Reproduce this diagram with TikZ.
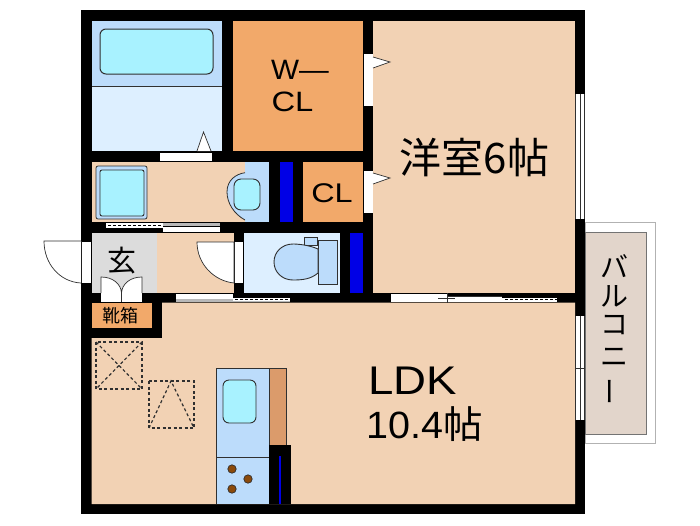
\documentclass[tikz,border=0pt]{standalone}
\usepackage{fontspec}
\setmainfont{Liberation Sans}
\newfontfamily\jp{Noto Sans CJK JP}
\definecolor{peach}{HTML}{F2D2B4}
\definecolor{closet}{HTML}{F2A96A}
\definecolor{paleblue}{HTML}{DDEFFF}
\definecolor{midblue}{HTML}{BCDCFB}
\definecolor{cyanw}{HTML}{A8F2FF}
\definecolor{floorgrey}{HTML}{DCDCDC}
\definecolor{pipe}{HTML}{0000E6}
\definecolor{balc}{HTML}{E2D5CB}
\definecolor{cab}{HTML}{DB9B6B}
\definecolor{burner}{HTML}{8B4A0B}
\definecolor{ln}{HTML}{303030}
\definecolor{trk}{HTML}{B8B8B8}
\tikzset{
 wall/.style={fill=black,draw=none},
 room/.style={draw=none},
 opening/.style={fill=white,draw=none},
 fix/.style={draw=ln,line width=0.9pt},
 swing/.style={fill=white,draw=ln,line width=0.7pt},
 dotline/.style={draw=black,line width=1.2pt,dash pattern=on 2.5pt off 2.5pt},
 dashline/.style={draw=ln,line width=1.2pt,dash pattern=on 3pt off 2.5pt},
 thinline/.style={draw=ln,line width=0.7pt},
 lbl/.style={inner sep=0pt,outer sep=0pt,text=black},
 jpbal/.style={lbl,font=\jp\fontsize{28}{28}\selectfont}
}
\newcommand{\wider}[2]{\scalebox{#1}[1]{#2}}
\begin{document}
\begin{tikzpicture}[x=1pt,y=-1pt]
\useasboundingbox (0,0) rectangle (700,525);
% balcony
\path[fill=white,draw=gray!60,line width=0.9pt] (585,222) rectangle (655,443);
\path[fill=balc,draw=gray!90!black,line width=0.9pt] (585,232) rectangle (646,434);
% whole wall block
\path[wall] (81,10) rectangle (585,514);
% rooms
\path[room,fill=midblue] (91.5,20.7) rectangle (222,86);
\path[room,fill=paleblue] (91.5,86) rectangle (222,151);
\draw[ln,line width=1pt] (91.5,86) -- (222,86);
\path[room,fill=closet] (232.5,20.7) rectangle (363,151);
\path[room,fill=peach] (373,20.7) rectangle (575,292.7);
\path[room,fill=peach] (91.5,161.7) rectangle (245,222);
\path[room,fill=midblue] (245,161.7) rectangle (269,222);
\path[room,fill=pipe] (280,161.7) rectangle (293,222);
\path[room,fill=closet] (303,161.7) rectangle (363,222);
\path[room,fill=floorgrey] (91.5,232.7) rectangle (157,292.7);
\path[room,fill=peach] (157,232.7) rectangle (234,292.7);
\path[room,fill=paleblue] (244,232.7) rectangle (340,292.7);
\path[room,fill=pipe] (350,232.7) rectangle (363,292.7);
\path[room,fill=closet] (91.5,302.7) rectangle (152,327.7);
\path[room,fill=peach] (162,302.7) rectangle (575,504) (91.5,338) rectangle (162,504);
% tub
\draw[fix,line width=1pt,fill=cyanw,rounded corners=6pt] (100,29) rectangle (213,74);
% washer
\draw[fix,line width=0.8pt,fill=midblue,rounded corners=2pt] (96,166) rectangle (147,219);
\draw[fix,fill=cyanw,rounded corners=2pt] (100,170) rectangle (144,216);
% basin
\path[draw=ln,line width=0.8pt,fill=midblue] (245,172.7) .. controls (236,174) and (227,180) .. (227,192) .. controls (227,203) and (234,214) .. (245,220);
\draw[fix,fill=cyanw,rounded corners=7pt] (234,179) rectangle (260,210);
% openings and door leaves
\path[opening] (364,54) rectangle (373,106);
\path[opening] (364,171) rectangle (373,213);
\draw[swing] (373,57) -- (390,62) -- (373,68);
\draw[swing] (373,173) -- (390,178) -- (373,184);
\path[opening] (160,153) rectangle (212,161);
\draw[swing] (197,151) -- (203.5,132) -- (211,151);
\path[opening] (82,242) rectangle (91,283);
\draw[swing] (81,241) -- (44,241) .. controls (44,264) and (60,282) .. (81,283);
\path[opening] (235,242) rectangle (243,283);
\draw[swing] (234,242) -- (197,242) .. controls (197,264) and (214,281) .. (234,283) -- cycle;
% shoe-side double door
\path[opening] (101,293) rectangle (142,302);
\draw[swing] (101,293) -- (101,277) .. controls (113,277) and (121,284) .. (121.5,293) .. controls (122,284) and (130,277) .. (142,277) -- (142,293);
\draw[ln,line width=0.7pt] (121.5,290) -- (121.5,302);
% sliding: washroom/hall
\path[opening] (106,223) rectangle (163,227.5);
\path[fill=trk] (163,223) rectangle (220,226);
\path[opening] (163,227) rectangle (220,231.5);
\draw[dotline] (108,225.2) -- (162,225.2);
% sliding: hall/LDK
\path[opening] (176,293.5) rectangle (233,298.5);
\path[fill=trk] (176,299) rectangle (233,302);
\path[opening] (233,297.5) rectangle (290,301);
\draw[dotline] (235,299.5) -- (290,299.5);
\path[fill=trk] (233,301) rectangle (290,302);
% sliding: room/LDK
\path[opening] (391,293.5) rectangle (447,302);
\path[opening] (447,296.5) rectangle (502,302);
\path[opening] (502,297.5) rectangle (557,301.5);
\draw[dotline,line width=1pt] (505,299.5) -- (557,299.5);
\draw[thinline,line width=1.2pt] (438,298.5) -- (455,298.5);
\draw[thinline] (447,296) -- (502,296);
\draw[thinline] (447,293) -- (447,302.5);
% windows
\path[opening] (575,94) rectangle (585,219);
\draw[thinline] (575.5,94) -- (575.5,219) (580.3,94) -- (580.3,219) (584.5,94) -- (584.5,219);
\path[opening] (575,316) rectangle (585,420);
\draw[thinline] (575.5,316) -- (575.5,420) (580.3,316) -- (580.3,420) (584.5,316) -- (584.5,420);
\draw[thinline] (575,368) -- (585,368);
% toilet
\draw[fix,fill=midblue] (318,240) rectangle (337,284);
\draw[fix,fill=midblue] (304,237) rectangle (317,245);
\draw[fix,fill=midblue] (318,249) .. controls (309,245) and (298,244) .. (293,244) .. controls (282,244) and (274,252) .. (274,262) .. controls (274,272) and (282,280) .. (293,280) .. controls (303,280) and (311,279) .. (318,273) -- cycle;
% kitchen
\path[draw=ln,line width=0.9pt,fill=midblue] (216,504) -- (216,368) -- (269,368) -- (269,504);
\draw[fix] (216,457) -- (269,457);
\draw[fix,fill=cab] (269,368) rectangle (286,445);
\path[wall] (269,445) rectangle (291,504);
\draw[pipe,line width=1.3pt] (280,456) -- (280,504);
\draw[fix,fill=cyanw,rounded corners=6pt] (223,380) rectangle (256,423);
\foreach \cx/\cy in {232/469,248/479,232/489}
 \draw[ln,line width=0.7pt,fill=burner] (\cx,\cy) circle (4.2);
% storage dashes
\draw[dashline] (96,342) rectangle (142,389);
\draw[dashline] (96,342) -- (142,389) (142,342) -- (96,389);
\draw[dashline] (149,381) rectangle (194,428);
\draw[dashline] (149,428) -- (171,381) -- (194,428);
% labels
\node[lbl,font=\fontsize{28}{28}\selectfont] (wl) at (300,70) {\wider{1.06}{W—}};
\node[lbl,font=\fontsize{28}{28}\selectfont] (cl) at (292.5,102) {\wider{1.17}{CL}};
\node[lbl,font=\fontsize{27}{27}\selectfont] (cl2) at (332,193.5) {\wider{1.2}{CL}};
\node[lbl,font=\jp\fontsize{42}{42}\selectfont] (room) at (474.5,158) {洋室6帖};
\node[lbl,font=\fontsize{40}{40}\selectfont] (ldk) at (412.5,381) {\wider{1.14}{LDK}};
\node[lbl,font=\fontsize{38}{38}\selectfont] (size) at (425,424) {\wider{1.04}{10.4{\jp 帖}}};
\node[lbl,font=\jp\fontsize{29}{29}\selectfont] (gen) at (121.5,261) {玄};
\node[lbl,font=\jp\fontsize{18}{18}\selectfont] (shoe) at (120.5,316) {靴箱};
\node[jpbal] (b1) at (614.5,266.5) {バ};
\node[jpbal] (b2) at (614.5,296.5) {ル};
\node[jpbal] (b3) at (614.5,325) {コ};
\node[jpbal] (b4) at (614.5,357.5) {ニ};
\node[jpbal,rotate=90] (b5) at (614.5,391.5) {ー};
\end{tikzpicture}
\end{document}
